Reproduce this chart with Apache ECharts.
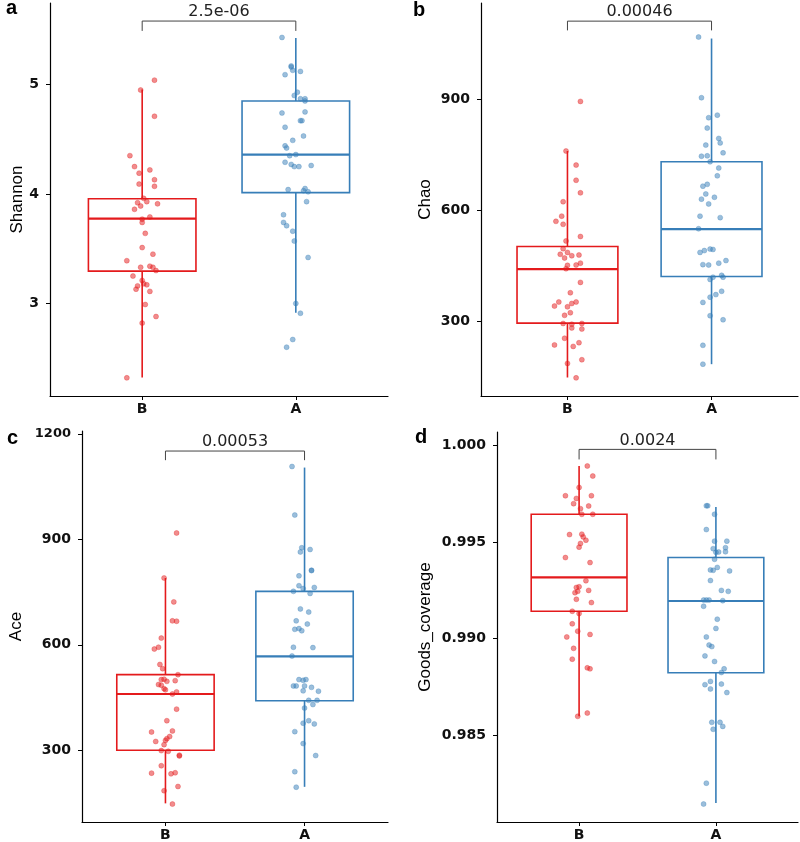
<!DOCTYPE html>
<html>
<head>
<meta charset="utf-8">
<script src="https://cdn.jsdelivr.net/npm/echarts@6/dist/echarts.min.js"></script>
<style>html,body{margin:0;padding:0;background:#fff}#c{width:800px;height:842px}</style>
</head>
<body>
<div id="c"></div>
<script>
// ---------- data ----------
const groups = ['B', 'A'];
const panelLetters = ['a', 'b', 'c', 'd'];
const metricNames = ['Shannon', 'Chao', 'Ace', 'Goods_coverage'];
const pValues = ['2.5e-06', '0.00046', '0.00053', '0.0024'];

// y ticks per panel
const ticksA = [3, 4, 5];
const ticksB = [300, 600, 900];
const ticksC = [300, 600, 900, 1200];
const ticksD = [0.985, 0.990, 0.995, 1.000];

// box stats: [x, min, q1, median, q3, max]
const boxShannon = [[1, 2.324, 3.295, 3.775, 3.957, 4.955], [2, 2.914, 4.012, 4.359, 4.849, 5.426]];
const boxChao = [[1, 148, 295, 441, 502, 760], [2, 184, 421, 549, 731, 1064]];
const boxAce = [[1, 149, 300, 460, 515, 790], [2, 196, 441, 567, 752, 1104]];
const boxGoods = [[1, 0.98598, 0.99142, 0.99317, 0.99644, 0.99894], [2, 0.98149, 0.98824, 0.99195, 0.99420, 0.99682]];

// jittered points [x, value]
const shannonB = [[1.08,5.04],[0.99,4.95],[1.08,4.71],[0.92,4.35],[0.95,4.25],[1.05,4.22],[0.98,4.19],[1.08,4.13],[0.98,4.09],[1.08,4.07],[1.01,3.96],[0.97,3.92],[1.03,3.93],[1.10,3.91],[0.99,3.89],[0.95,3.86],[1.05,3.79],[1.00,3.77],[1.00,3.74],[1.02,3.64],[1.00,3.51],[1.07,3.45],[0.90,3.39],[0.99,3.33],[1.05,3.34],[1.07,3.33],[1.09,3.30],[0.94,3.25],[1.00,3.21],[1.01,3.18],[1.03,3.17],[0.97,3.16],[0.96,3.13],[1.05,3.11],[1.02,2.99],[1.09,2.88],[1.00,2.82],[0.90,2.32]];
const shannonA = [[1.91,5.43],[1.97,5.17],[1.97,5.16],[1.98,5.13],[2.03,5.12],[1.93,5.09],[2.01,4.93],[1.99,4.90],[2.03,4.87],[2.06,4.87],[2.06,4.85],[1.91,4.74],[2.06,4.75],[2.03,4.67],[2.04,4.67],[1.93,4.61],[2.05,4.53],[1.98,4.49],[1.93,4.44],[1.94,4.42],[2.00,4.36],[1.96,4.35],[1.93,4.29],[1.97,4.27],[1.99,4.25],[2.02,4.25],[2.10,4.26],[1.95,4.04],[2.06,4.05],[2.05,4.03],[2.08,4.02],[2.07,3.93],[1.92,3.81],[1.92,3.74],[1.94,3.71],[1.98,3.66],[1.99,3.57],[2.08,3.42],[2.00,3.00],[2.03,2.91],[1.98,2.67],[1.94,2.60]];
const chaoB = [[1.09,894],[0.99,760],[1.06,722],[1.06,681],[1.09,647],[0.97,623],[0.96,584],[0.92,570],[0.97,562],[1.09,529],[0.99,517],[0.97,496],[1.00,486],[0.95,481],[1.08,479],[0.98,471],[1.03,477],[1.00,451],[0.99,442],[1.06,452],[1.09,457],[1.09,405],[1.02,377],[0.94,352],[0.91,341],[1.06,352],[1.03,348],[1.00,339],[1.02,323],[0.98,316],[0.97,294],[1.03,292],[1.10,294],[1.03,282],[1.10,279],[0.98,254],[1.08,242],[0.91,236],[1.04,232],[1.00,186],[1.10,196],[1.06,147]];
const chaoA = [[1.91,1068],[1.93,904],[2.04,857],[1.98,850],[1.97,822],[2.05,794],[2.06,782],[1.96,776],[2.08,755],[1.93,746],[1.97,747],[1.99,731],[2.05,714],[2.04,693],[1.97,670],[1.94,665],[1.96,644],[2.02,635],[1.93,630],[1.98,617],[1.92,584],[2.06,580],[1.91,550],[1.99,495],[2.01,494],[1.95,491],[1.92,486],[2.10,464],[2.05,457],[1.94,453],[1.98,452],[2.07,424],[2.08,419],[2.01,419],[1.99,413],[2.07,381],[2.03,372],[1.99,365],[1.94,351],[1.99,315],[2.08,304],[1.94,235],[1.94,184]];
const aceB = [[1.08,918],[0.99,790],[1.06,722],[1.05,668],[1.08,667],[0.97,619],[0.95,593],[0.92,588],[0.96,544],[0.98,532],[1.09,515],[0.99,502],[0.97,501],[1.07,498],[1.01,496],[0.95,487],[0.97,485],[0.99,475],[1.00,472],[1.08,466],[1.05,460],[1.08,417],[1.01,384],[0.90,352],[1.05,355],[1.03,339],[1.01,333],[0.93,325],[1.00,328],[0.99,316],[0.97,299],[1.02,297],[1.10,284],[1.10,286],[0.97,256],[0.90,235],[1.04,233],[1.07,236],[1.09,197],[0.99,185],[1.05,147]];
const aceA = [[1.91,1107],[1.93,969],[1.98,876],[2.04,871],[1.97,864],[2.05,812],[2.05,811],[1.96,796],[1.96,768],[2.07,763],[1.99,760],[1.92,752],[2.04,746],[1.97,702],[2.03,693],[1.94,668],[2.02,659],[1.93,644],[1.96,646],[1.98,640],[1.92,593],[2.06,592],[1.91,568],[1.96,501],[2.01,501],[1.99,499],[1.92,483],[1.94,483],[2.00,483],[2.05,479],[1.99,469],[2.10,468],[2.03,442],[2.09,442],[2.00,420],[2.06,430],[2.03,384],[1.99,377],[2.07,375],[1.93,353],[1.99,319],[2.08,285],[1.93,239],[1.94,195]];
const goodsB = [[1.06,0.99894],[1.10,0.99842],[1.00,0.99783],[0.90,0.99740],[1.09,0.99740],[0.98,0.99726],[0.96,0.99699],[1.07,0.99687],[1.01,0.99673],[1.02,0.99644],[1.10,0.99644],[0.93,0.99539],[1.02,0.99541],[1.03,0.99527],[1.05,0.99510],[1.01,0.99493],[1.00,0.99474],[0.90,0.99420],[1.08,0.99394],[1.05,0.99300],[1.00,0.99269],[0.98,0.99265],[0.99,0.99245],[1.07,0.99250],[0.97,0.99238],[0.98,0.99204],[1.09,0.99187],[0.95,0.99142],[1.00,0.99130],[0.95,0.99077],[0.99,0.99039],[1.08,0.99022],[0.91,0.99009],[0.96,0.98950],[0.95,0.98894],[1.06,0.98849],[1.08,0.98844],[1.06,0.98615],[0.99,0.98598]];
const goodsA = [[1.93,0.99688],[1.94,0.99688],[1.99,0.99644],[1.93,0.99565],[1.99,0.99505],[2.08,0.99505],[2.07,0.99471],[1.98,0.99466],[2.02,0.99449],[2.00,0.99447],[2.07,0.99450],[1.99,0.99411],[2.01,0.99369],[1.96,0.99356],[1.98,0.99354],[2.10,0.99351],[1.96,0.99301],[2.04,0.99250],[2.09,0.99245],[1.91,0.99200],[1.93,0.99200],[1.95,0.99200],[2.05,0.99197],[1.91,0.99168],[2.01,0.99101],[2.00,0.99053],[1.93,0.99009],[1.95,0.98967],[1.97,0.98959],[1.92,0.98911],[1.99,0.98882],[2.06,0.98844],[2.04,0.98825],[1.96,0.98779],[1.92,0.98762],[2.04,0.98765],[1.96,0.98740],[2.08,0.98721],[1.97,0.98567],[2.03,0.98567],[2.05,0.98546],[1.98,0.98531],[1.93,0.98252],[1.91,0.98144]];

// significance brackets: [x1, x2, bracketTop, bracketBottom, labelY]
const bracketShannon = [1, 2, 5.58, 5.49, 5.66];
const bracketChao = [1, 2, 1111, 1086, 1136];
const bracketAce = [1, 2, 1151, 1125, 1177];
const bracketGoods = [1, 2, 0.99980, 0.99928, 1.00024];

// ---------- layout/style ----------
const RED = '#E41A1C', BLUE = '#377EB8';
const groupColors = [RED, BLUE];
const panels = [
  {box: boxShannon, pts: [shannonB, shannonA], ticks: ticksA, br: bracketShannon, ymin: 2.154, ymax: 5.745,
   grid: {left: 50, top: 3, width: 338, height: 393}, nameGap: 24, fmt: v => String(v)},
  {box: boxChao, pts: [chaoB, chaoA], ticks: ticksB, br: bracketChao, ymin: 98, ymax: 1160,
   grid: {left: 481, top: 3, width: 317, height: 393}, nameGap: 47, fmt: v => String(v)},
  {box: boxAce, pts: [aceB, aceA], ticks: ticksC, br: bracketAce, ymin: 96, ymax: 1208,
   grid: {left: 82, top: 431, width: 306, height: 394}, nameGap: 57, fmt: v => (v === 1200 ? '{s|1200}' : String(v))},
  {box: boxGoods, pts: [goodsB, goodsA], ticks: ticksD, br: bracketGoods, ymin: 0.98051, ymax: 1.0007,
   grid: {left: 497, top: 432, width: 301, height: 393}, nameGap: 63, fmt: v => v.toFixed(3)}
];

const tickFont = {color: '#111', fontSize: 14, fontWeight: 'bold', fontFamily: 'DejaVu Sans',
  rich: {s: {color: '#111', fontSize: 13, fontWeight: 'bold', fontFamily: 'DejaVu Sans'}}};
const axisLine = {show: true, lineStyle: {color: '#000', width: 1.2}};
const axisTick = {show: true, length: 4, lineStyle: {color: '#000', width: 1}};

const grids = [], xAxes = [], yAxes = [], series = [];
panels.forEach((p, i) => {
  grids.push(Object.assign({containLabel: false}, p.grid));
  xAxes.push({
    type: 'value', gridIndex: i, min: 0.4, max: 2.6,
    axisLine, axisTick: Object.assign({customValues: [1, 2]}, axisTick),
    axisLabel: Object.assign({customValues: [1, 2], margin: 6, formatter: v => groups[Math.round(v) - 1]}, tickFont),
    splitLine: {show: false}
  });
  yAxes.push({
    type: 'value', gridIndex: i, min: p.ymin, max: p.ymax,
    name: metricNames[i], nameLocation: 'middle', nameGap: p.nameGap,
    nameTextStyle: {color: '#000', fontSize: 17, fontFamily: 'Liberation Sans'},
    axisLine, axisTick: Object.assign({customValues: p.ticks}, axisTick),
    axisLabel: Object.assign({customValues: p.ticks, margin: 11, formatter: p.fmt}, tickFont),
    splitLine: {show: false}
  });
  // boxes
  series.push({
    type: 'custom', xAxisIndex: i, yAxisIndex: i, z: 2, silent: true,
    encode: {x: 0, y: [1, 2, 3, 4, 5]},
    data: p.box,
    renderItem: (params, api) => {
      const x = api.value(0);
      const c = groupColors[params.dataIndex];
      const lo = api.coord([x, api.value(1)]);
      const q1 = api.coord([x, api.value(2)]);
      const md = api.coord([x, api.value(3)]);
      const q3 = api.coord([x, api.value(4)]);
      const hi = api.coord([x, api.value(5)]);
      const w = api.size([0.7, 0])[0];
      return {type: 'group', children: [
        {type: 'line', shape: {x1: hi[0], y1: hi[1], x2: q3[0], y2: q3[1]}, style: {stroke: c, lineWidth: 1.6}},
        {type: 'line', shape: {x1: lo[0], y1: lo[1], x2: q1[0], y2: q1[1]}, style: {stroke: c, lineWidth: 1.6}},
        {type: 'rect', shape: {x: md[0] - w / 2, y: q3[1], width: w, height: q1[1] - q3[1]}, style: {fill: 'none', stroke: c, lineWidth: 1.6}},
        {type: 'line', shape: {x1: md[0] - w / 2, y1: md[1], x2: md[0] + w / 2, y2: md[1]}, style: {stroke: c, lineWidth: 2.2}}
      ]};
    }
  });
  // points
  p.pts.forEach((arr, g) => {
    series.push({
      type: 'scatter', xAxisIndex: i, yAxisIndex: i, z: 3, silent: true,
      symbol: 'circle', symbolSize: 5,
      itemStyle: {color: groupColors[g], opacity: 0.5, borderColor: groupColors[g], borderWidth: 0.6},
      data: arr
    });
  });
  // bracket + p-value
  series.push({
    type: 'custom', xAxisIndex: i, yAxisIndex: i, z: 4, silent: true,
    encode: {x: [0, 1], y: [2, 3, 4]},
    data: [p.br],
    renderItem: (params, api) => {
      const a0 = api.coord([api.value(0), api.value(3)]);
      const a1 = api.coord([api.value(0), api.value(2)]);
      const b1 = api.coord([api.value(1), api.value(2)]);
      const b0 = api.coord([api.value(1), api.value(3)]);
      const t = api.coord([(api.value(0) + api.value(1)) / 2, api.value(4)]);
      return {type: 'group', children: [
        {type: 'polyline', shape: {points: [a0, a1, b1, b0]}, style: {stroke: '#444', lineWidth: 1, fill: 'none'}},
        {type: 'text', x: t[0], y: t[1], style: {text: pValues[i], align: 'center', verticalAlign: 'middle', fontSize: 16, fontFamily: 'DejaVu Sans', fill: '#222'}}
      ]};
    }
  });
});

const letterPos = [[6, 8], [413, 10], [7, 438], [415, 437]];
const graphic = panelLetters.map((l, i) => ({
  type: 'text', x: letterPos[i][0], y: letterPos[i][1],
  style: {text: l, fontSize: 20, fontWeight: 'bold', fontFamily: 'Liberation Sans', fill: '#000', align: 'left', verticalAlign: 'middle'}
}));

const chart = echarts.init(document.getElementById('c'), null, {renderer: 'canvas'});
chart.setOption({
  animation: false,
  backgroundColor: '#fff',
  grid: grids, xAxis: xAxes, yAxis: yAxes, series, graphic
});
</script>
</body>
</html>
